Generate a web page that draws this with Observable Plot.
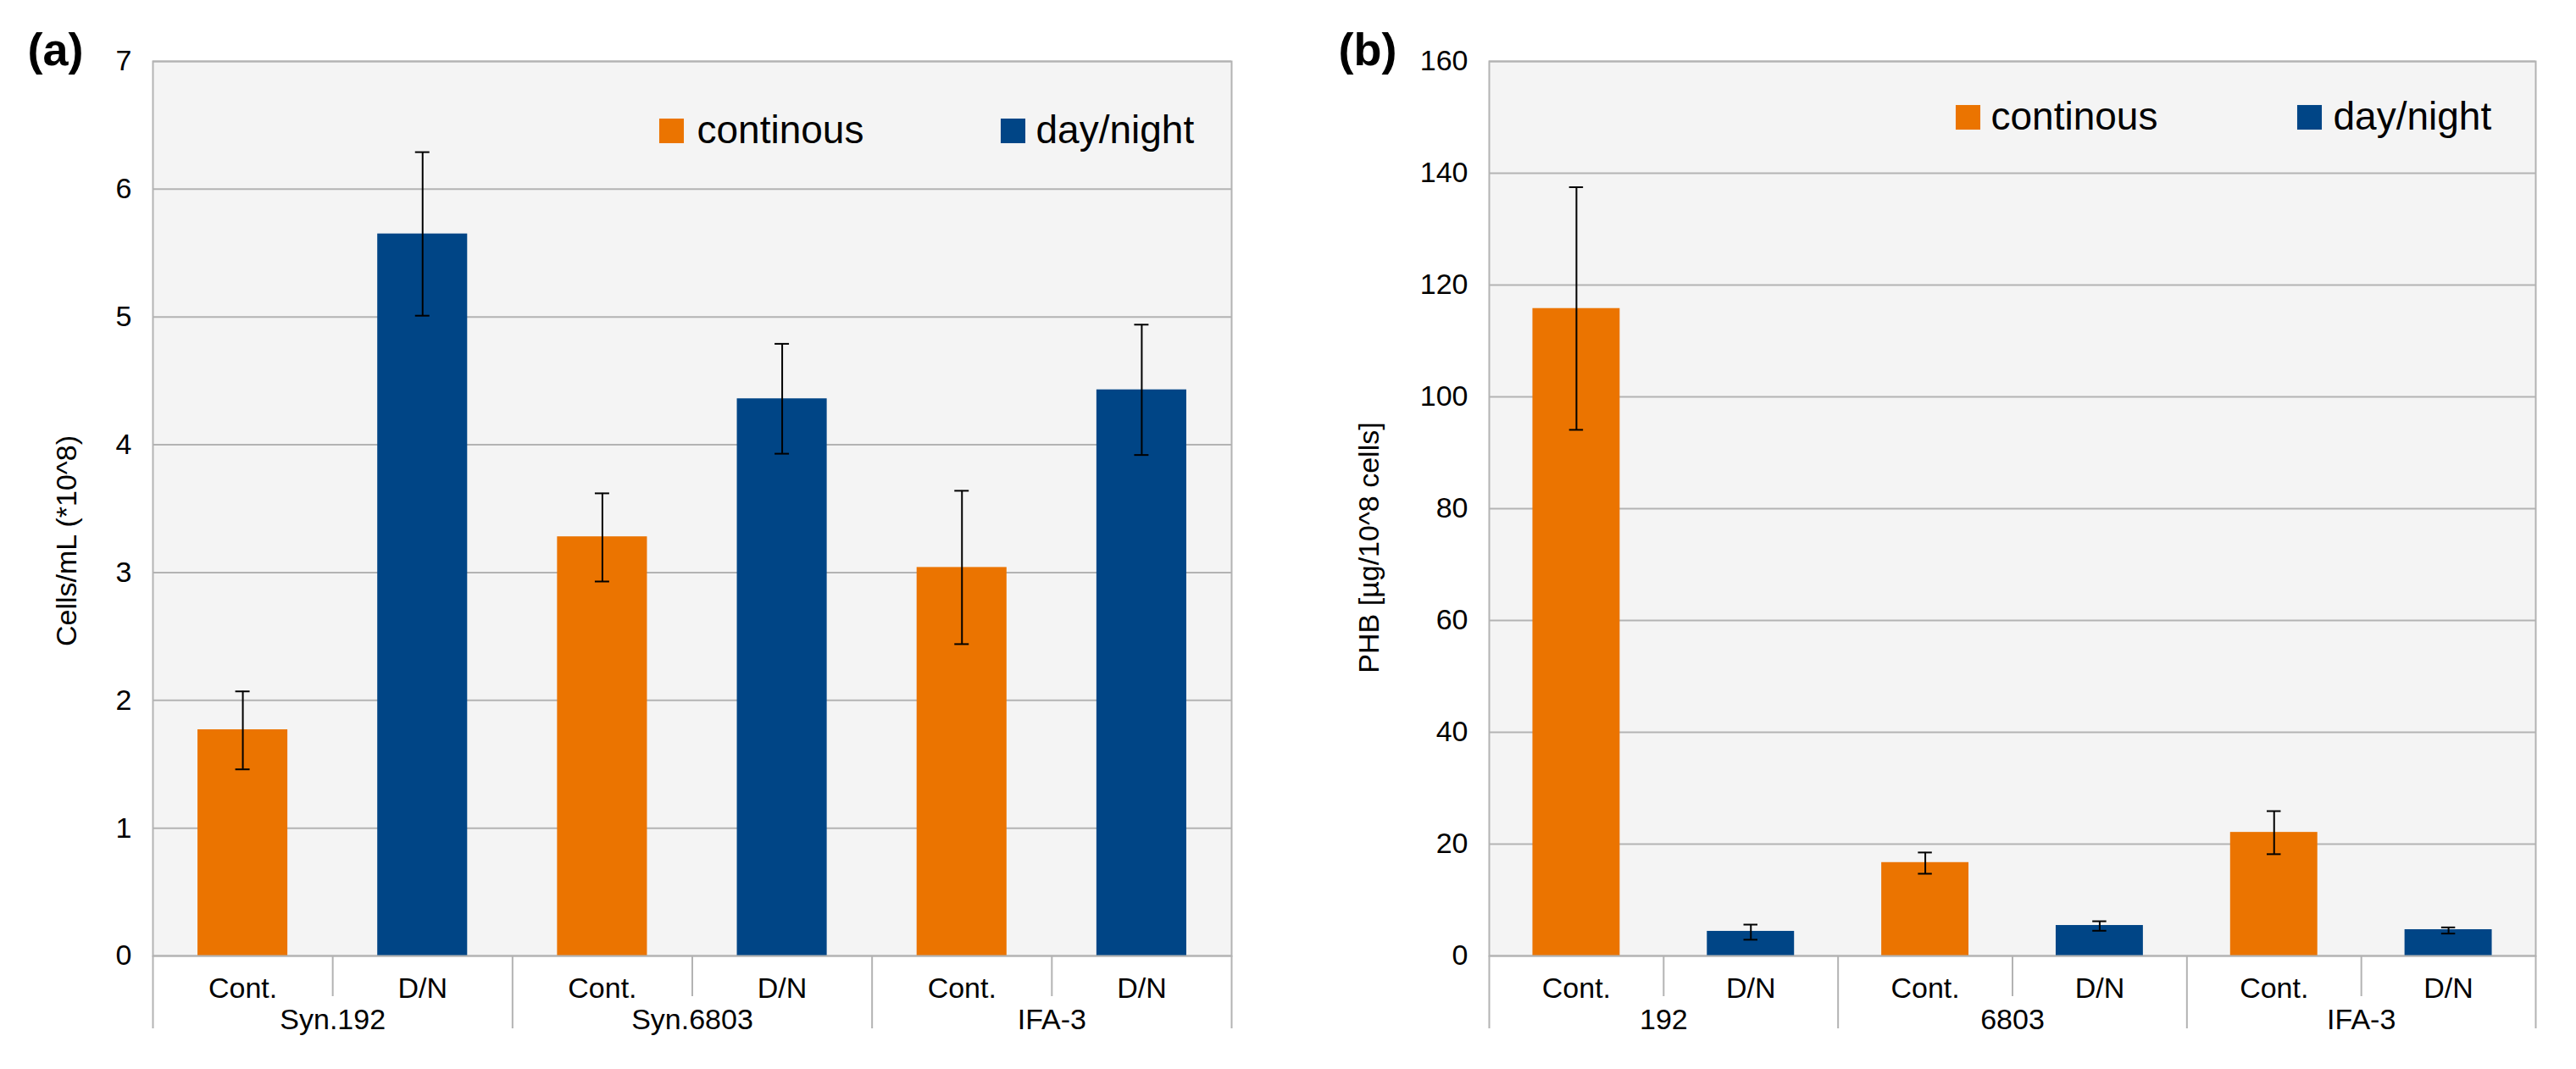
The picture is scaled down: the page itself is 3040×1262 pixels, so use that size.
<!DOCTYPE html>
<html><head><meta charset="utf-8">
<script src="https://cdn.jsdelivr.net/npm/d3@7"></script>
<script src="https://cdn.jsdelivr.net/npm/@observablehq/plot@0.6"></script>
<style>
html,body{margin:0;padding:0;background:#fff;}
#wrap{display:flex;width:3040px;height:1262px;overflow:hidden;}
#wrap svg{display:block;flex:none;}
</style></head><body><div id="wrap"></div>
<script>
// ---- data ----
const conditions = ["Cont.", "D/N"];
const seriesNames = ["continous", "day/night"];
const seriesColors = ["#eb7400", "#004586"];

const strainsA = ["Syn.192", "Syn.6803", "IFA-3"];
const cellsMean = [1.77, 5.65, 3.28, 4.36, 3.04, 4.43];
const cellsLow  = [1.46, 5.01, 2.93, 3.93, 2.44, 3.92];
const cellsHigh = [2.07, 6.29, 3.62, 4.79, 3.64, 4.94];
const yTicksA = [0, 1, 2, 3, 4, 5, 6, 7];

const strainsB = ["192", "6803", "IFA-3"];
const phbMean = [115.8, 4.4, 16.7, 5.45, 22.1, 4.7];
const phbLow  = [94.1, 2.9, 14.7, 4.5, 18.2, 4.0];
const phbHigh = [137.5, 5.6, 18.5, 6.2, 25.9, 5.1];
const yTicksB = [0, 20, 40, 60, 80, 100, 120, 140, 160];

// ---- helpers ----
function rowsOf(strains, mean, low, high) {
  return mean.map((v, i) => ({
    i,
    strain: strains[Math.floor(i / 2)],
    condition: conditions[i % 2],
    series: seriesNames[i % 2],
    value: v, low: low[i], high: high[i]
  }));
}

const GRID = "#b3b3b3";

function panel(o) {
  const rows = rowsOf(o.strains, o.mean, o.low, o.high);
  const n = rows.length;
  const condTicks = rows.map(d => d.i + 0.5);
  const groupTicks = o.strains.map((s, k) => 2 * k + 1);
  const innerSeps = o.strains.map((s, k) => 2 * k + 1);
  const groupSeps = d3.range(0, n + 1, 2);
  const legendMarks = seriesNames.flatMap((name, k) => [
    Plot.dot([name], {frameAnchor: "top-left", dx: o.legend[k][0], dy: o.legend[k][2],
      symbol: "square", r: 16.4, fill: d => d, stroke: null}),
    Plot.text([name], {frameAnchor: "top-left", dx: o.legend[k][1], dy: o.legend[k][3],
      textAnchor: "start", lineAnchor: "bottom", fontSize: 46, fill: "black"})
  ]);
  return Plot.plot({
    width: 1520, height: 1262,
    marginLeft: o.mLeft, marginRight: o.mRight, marginTop: 72, marginBottom: 134,
    style: {fontFamily: "'Liberation Sans', Arial, sans-serif", fontSize: "34px", color: "black", background: "white", overflow: "visible"},
    x: {domain: [0, n]},
    y: {domain: o.yDomain},
    color: {domain: seriesNames, range: seriesColors},
    marks: [
      Plot.frame({fill: "#f4f4f4", stroke: "none"}),
      Plot.gridY({ticks: o.yTicks, stroke: GRID, strokeOpacity: 1, strokeWidth: 2}),
      Plot.rectY(rows, {x1: d => d.i + 0.25, x2: d => d.i + 0.75, y1: 0, y2: "value", fill: "series"}),
      Plot.ruleX(rows, {x: d => d.i + 0.5, y1: "low", y2: "high", stroke: "black", strokeWidth: 2}),
      Plot.ruleY(rows, {y: "high", x1: d => d.i + 0.46, x2: d => d.i + 0.54, stroke: "black", strokeWidth: 2}),
      Plot.ruleY(rows, {y: "low", x1: d => d.i + 0.46, x2: d => d.i + 0.54, stroke: "black", strokeWidth: 2}),
      Plot.frame({stroke: GRID, strokeWidth: 2}),
      Plot.axisY({ticks: o.yTicks, tickSize: 0, tickPadding: 25, label: null, fontSize: 34,
        tickFormat: d => String(d)}),
      Plot.axisX({ticks: innerSeps, tickSize: 48, tickFormat: () => "", stroke: GRID, strokeWidth: 2, label: null}),
      Plot.axisX({ticks: groupSeps, tickSize: 86, tickFormat: () => "", stroke: GRID, strokeWidth: 2, label: null}),
      Plot.axisX({ticks: condTicks, tickSize: 0, tickPadding: 25, fontSize: 34, label: null,
        tickFormat: t => conditions[Math.round(t - 0.5) % 2]}),
      Plot.axisX({ticks: groupTicks, tickSize: 0, tickPadding: 62, fontSize: 34, label: null,
        tickFormat: t => o.strains[Math.round((t - 1) / 2)]}),
      Plot.text([o.yLabel], {frameAnchor: "left", textAnchor: "middle", lineAnchor: "middle", rotate: -90,
        dx: o.titleDx, dy: o.titleDy, fontSize: 34, fill: "black"}),
      Plot.text([o.tag], {frameAnchor: "top-left", dx: o.tagDx, dy: 4, textAnchor: "start", lineAnchor: "bottom",
        fontSize: 54, fontWeight: "bold", fill: "black"}),
      ...legendMarks
    ]
  });
}

const wrap = document.getElementById("wrap");
wrap.append(panel({
  strains: strainsA, mean: cellsMean, low: cellsLow, high: cellsHigh,
  yDomain: [0, 7], yTicks: yTicksA, yLabel: "Cells/mL (*10^8)", tag: "(a)",
  mLeft: 180, mRight: 67, titleDx: -101, titleDy: 38, tagDx: -148,
  legend: [[612, 642, 82, 96], [1015, 1042, 82, 96]]
}));
wrap.append(panel({
  strains: strainsB, mean: phbMean, low: phbLow, high: phbHigh,
  yDomain: [0, 160], yTicks: yTicksB, yLabel: "PHB [µg/10^8 cells]", tag: "(b)",
  mLeft: 237, mRight: 48, titleDx: -141, titleDy: 46, tagDx: -178,
  legend: [[565, 592, 66, 80], [968, 996, 66, 80]]
}));
</script>
</body></html>
